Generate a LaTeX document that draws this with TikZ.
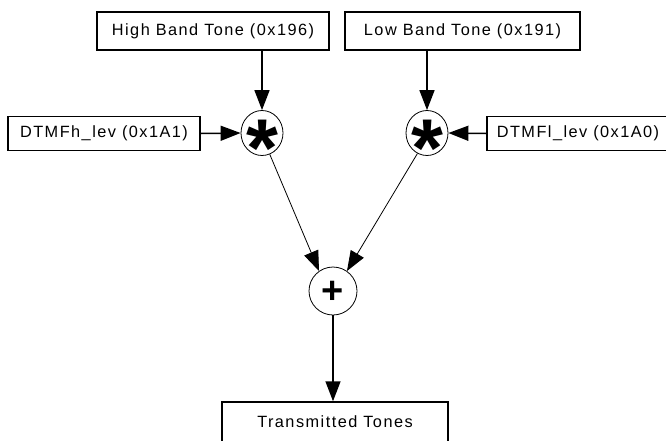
\documentclass[tikz,border=0pt]{standalone}
\usepackage{fontspec}
\setmainfont{Liberation Sans}
\newfontfamily\boxfont[LetterSpace=9]{Liberation Sans}
\usetikzlibrary{arrows.meta,shapes.geometric}
\newcommand{\bigast}{\makebox[0pt]{\raisebox{-43pt}[0pt][0pt]{\fontsize{82}{82}\selectfont\bfseries *}}}
\newcommand{\bigplus}{\makebox[0pt]{\raisebox{-12pt}[0pt][0pt]{\fontsize{38}{38}\selectfont\bfseries +}}}
\begin{document}
\begin{tikzpicture}[x=1pt,y=-1pt,
  box/.style={draw,line width=1.5pt,inner sep=0pt,font=\boxfont\fontsize{16.3}{19}\selectfont},
  op/.style={draw,line width=0.8pt,ellipse,minimum width=42pt,minimum height=45pt,inner sep=0pt},
  big/.style={-{Triangle[length=20pt,width=15pt]},line width=1.5pt},
  thin/.style={-{Triangle[length=20pt,width=15pt]},line width=0.8pt}]
\useasboundingbox (0,0) rectangle (666,440);
\node[box,minimum width=232pt,minimum height=38pt] (hb) at (213,31) {High Band Tone (0x196)};
\node[box,minimum width=235pt,minimum height=38pt] (lb) at (462.5,31) {Low Band Tone (0x191)};
\node[box,minimum width=192pt,minimum height=34pt] (dh) at (104,133.5) {DTMFh\_lev (0x1A1)};
\node[box,minimum width=182pt,minimum height=34pt] (dl) at (578,133.5) {DTMFl\_lev (0x1A0)};
\node[op] (m1) at (262,133) {\bigast};
\node[op] (m2) at (427,133) {\bigast};
\node[op,minimum width=48pt,minimum height=48pt] (pl) at (333,291) {\bigplus};
\node[box,minimum width=226pt,minimum height=40pt] (tt) at (335,422) {Transmitted Tones};
\coordinate (hbs) at (262,50);
\coordinate (lbs) at (427,50);
\draw[big] (hbs) -- (m1.north);
\draw[big] (lbs) -- (m2.north);
\draw[big] (dh.east) -- (m1.west);
\draw[big] (dl.west) -- (m2.east);
\draw[thin] (m1.-70) -- (pl.125);
\draw[thin] (m2.-115) -- (pl.55);
\draw[big] (pl.south) -- (tt.north -| pl.south);
\end{tikzpicture}
\end{document}
